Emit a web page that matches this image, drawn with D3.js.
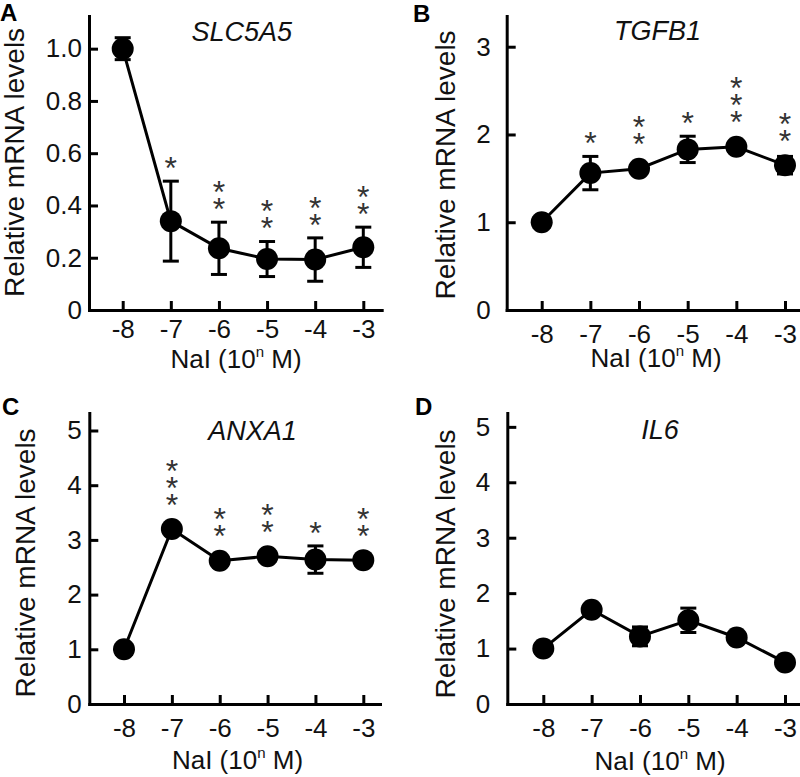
<!DOCTYPE html>
<html><head><meta charset="utf-8">
<script src="https://cdn.jsdelivr.net/npm/d3@7"></script>
<style>body{margin:0;background:#fff}</style>
</head><body>
<svg id="chart" width="800" height="777"></svg>
<script>
// ---------- data ----------
const doses = [-8, -7, -6, -5, -4, -3];
const doseLabels = ["-8", "-7", "-6", "-5", "-4", "-3"];
const genes = ["SLC5A5", "TGFB1", "ANXA1", "IL6"];
const panelLetters = ["A", "B", "C", "D"];

const slc5a5Mean = [1.00, 0.34, 0.236, 0.195, 0.193, 0.24];
const slc5a5Err  = [0.042, 0.153, 0.10, 0.067, 0.083, 0.077];
const slc5a5Stars = [0, 1, 2, 2, 2, 2];

const tgfb1Mean = [1.00, 1.56, 1.61, 1.83, 1.86, 1.65];
const tgfb1Err  = [0.02, 0.19, 0.04, 0.15, 0.04, 0.10];
const tgfb1Stars = [0, 1, 2, 1, 3, 2];

const anxa1Mean = [1.00, 3.20, 2.62, 2.70, 2.64, 2.63];
const anxa1Err  = [0.03, 0.07, 0.06, 0.07, 0.25, 0.06];
const anxa1Stars = [0, 3, 2, 2, 1, 2];

const il6Mean = [1.00, 1.70, 1.22, 1.51, 1.20, 0.75];
const il6Err  = [0.03, 0.07, 0.17, 0.22, 0.07, 0.05];
const il6Stars = [0, 0, 0, 0, 0, 0];

const yTicksA = [0, 0.2, 0.4, 0.6, 0.8, 1.0];
const yTicksB = [0, 1, 2, 3];
const yTicksCD = [0, 1, 2, 3, 4, 5];
const yMaxes = [1.125, 3.35, 5.32, 5.25];
const yLabel = "Relative mRNA levels";
const xLabelMain = "NaI (10";
const xLabelSup = "n";
const xLabelEnd = " M)";

// ---------- layout ----------
const FONT = "'Liberation Sans', Arial, Helvetica, sans-serif";
const layout = [
  {mean: slc5a5Mean, err: slc5a5Err, stars: slc5a5Stars, ticks: yTicksA, fmt: d => d === 0 ? "0" : d3.format(".1f")(d),
   x0: 89, x1: 381.7, p8: 122.7, p3: 363.3, top: 16, bottom: 310, tickPad: 7, xPad: 9.5,
   titleX: 241.7, titleY: 41, ytX: 24, ytY: 162.5, xtX: 236, xtY: 368, letterX: 0, letterY: 21},
  {mean: tgfb1Mean, err: tgfb1Err, stars: tgfb1Stars, ticks: yTicksB, fmt: d3.format("d"),
   x0: 506.7, x1: 803, p8: 541.7, p3: 785, top: 16, bottom: 310, tickPad: 16, xPad: 14.5,
   titleX: 657.5, titleY: 40, ytX: 455, ytY: 165, xtX: 656, xtY: 367, letterX: 413, letterY: 22},
  {mean: anxa1Mean, err: anxa1Err, stars: anxa1Stars, ticks: yTicksCD, fmt: d3.format("d"),
   x0: 89.3, x1: 380, p8: 124, p3: 363.3, top: 413, bottom: 704, tickPad: 7.6, xPad: 14.2,
   titleX: 252.5, titleY: 440, ytX: 35, ytY: 563, xtX: 237.5, xtY: 769, letterX: 2, letterY: 415},
  {mean: il6Mean, err: il6Err, stars: il6Stars, ticks: yTicksCD, fmt: d3.format("d"),
   x0: 507.3, x1: 803, p8: 543.3, p3: 785, top: 413, bottom: 704, tickPad: 17, xPad: 14.2,
   titleX: 660, titleY: 439, ytX: 455, ytY: 564, xtX: 660, xtY: 770, letterX: 415, letterY: 415}
];

const svg = d3.select("#chart");
const R = 11, CAP = 8, SW = 3, STAR_FS = 32, STAR_GAP = 21, STAR_STEP = 17;

layout.forEach((L, i) => {
  const g = svg.append("g");
  const base = d3.scaleLinear().domain([-8, -3]).range([L.p8, L.p3]);
  const x = d3.scaleLinear().domain([base.invert(L.x0), base.invert(L.x1)]).range([L.x0, L.x1]);
  const y = d3.scaleLinear().domain([0, yMaxes[i]]).range([L.bottom, L.top]);

  // y axis
  const yAxis = g.append("g").attr("transform", `translate(${L.x0},0)`)
    .call(d3.axisLeft(y).tickValues(L.ticks).tickFormat(L.fmt).tickSizeInner(-9).tickSizeOuter(0).tickPadding(L.tickPad));
  // x axis
  const xAxis = g.append("g").attr("transform", `translate(0,${L.bottom})`)
    .call(d3.axisBottom(x).tickValues(doses).tickFormat((d, j) => doseLabels[j]).tickSizeInner(-9).tickSizeOuter(0).tickPadding(L.xPad));
  [yAxis, xAxis].forEach(a => {
    a.select(".domain").attr("stroke", "#000").attr("stroke-width", SW).attr("stroke-linecap", "square");
    a.selectAll(".tick line").attr("stroke", "#000").attr("stroke-width", SW);
    a.selectAll(".tick text").attr("fill", "#111").style("font-family", FONT).style("font-size", "26px");
  });

  const pts = doses.map((d, j) => ({d, m: L.mean[j], e: L.err[j], s: L.stars[j]}));

  // connecting line
  g.append("path").datum(pts)
    .attr("d", d3.line().x(p => x(p.d)).y(p => y(p.m)))
    .attr("fill", "none").attr("stroke", "#000").attr("stroke-width", SW);

  // error bars
  const eb = g.append("g").selectAll("g").data(pts).join("g");
  eb.append("line").attr("x1", p => x(p.d)).attr("x2", p => x(p.d))
    .attr("y1", p => y(p.m - p.e)).attr("y2", p => y(p.m + p.e))
    .attr("stroke", "#000").attr("stroke-width", SW);
  eb.append("line").attr("x1", p => x(p.d) - CAP).attr("x2", p => x(p.d) + CAP)
    .attr("y1", p => y(p.m + p.e)).attr("y2", p => y(p.m + p.e))
    .attr("stroke", "#000").attr("stroke-width", SW);
  eb.append("line").attr("x1", p => x(p.d) - CAP).attr("x2", p => x(p.d) + CAP)
    .attr("y1", p => y(p.m - p.e)).attr("y2", p => y(p.m - p.e))
    .attr("stroke", "#000").attr("stroke-width", SW);

  // points
  g.append("g").selectAll("circle").data(pts).join("circle")
    .attr("cx", p => x(p.d)).attr("cy", p => y(p.m)).attr("r", R).attr("fill", "#000");

  // significance stars (one text per stack, stacked with tspans)
  pts.filter(p => p.s > 0).forEach(p => {
    const topPx = Math.min(y(p.m + p.e), y(p.m) - R);
    const topStar = topPx - STAR_GAP - (p.s - 1) * STAR_STEP;
    const t = g.append("text").attr("text-anchor", "middle").attr("fill", "#333")
      .style("font-family", FONT).style("font-size", STAR_FS + "px");
    for (let k = 0; k < p.s; k++) {
      t.append("tspan").attr("x", x(p.d)).attr("y", topStar + k * STAR_STEP + 0.585 * STAR_FS).text("*");
    }
  });

  // gene title
  g.append("text").attr("x", L.titleX).attr("y", L.titleY).attr("text-anchor", "middle")
    .style("font-family", FONT).style("font-size", "27px").style("font-style", "italic")
    .attr("fill", "#111").text(genes[i]);

  // y title
  g.append("text").attr("transform", `translate(${L.ytX},${L.ytY}) rotate(-90)`)
    .attr("text-anchor", "middle").style("font-family", FONT).style("font-size", "28px")
    .attr("fill", "#111").text(yLabel);

  // x title
  const xt = g.append("text").attr("x", L.xtX).attr("y", L.xtY).attr("text-anchor", "middle")
    .style("font-family", FONT).style("font-size", "26px").attr("fill", "#111");
  xt.append("tspan").text(xLabelMain);
  xt.append("tspan").attr("dy", -11).style("font-size", "15px").text(xLabelSup);
  xt.append("tspan").attr("dy", 11).text(xLabelEnd);

  // panel letter
  g.append("text").attr("x", L.letterX).attr("y", L.letterY)
    .style("font-family", FONT).style("font-size", "24px").style("font-weight", "bold")
    .attr("fill", "#000").text(panelLetters[i]);
});
</script>
</body></html>
